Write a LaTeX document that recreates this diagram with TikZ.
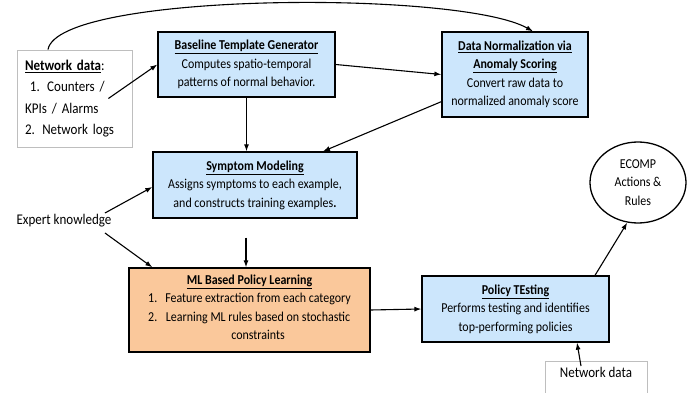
\documentclass[tikz,border=0pt]{standalone}
\usepackage{fontspec}
\setmainfont[FakeStretch=0.88]{Carlito}
\usetikzlibrary{arrows.meta, shapes.geometric}
\definecolor{boxblue}{RGB}{204,230,252}
\definecolor{boxorange}{RGB}{250,200,155}
\definecolor{framegray}{RGB}{190,190,190}

\begin{document}
\begin{tikzpicture}[x=1pt, y=-1pt,
    every node/.style={font=\fontsize{13.6}{18.5}\selectfont},
    stage/.style={draw, line width=1.3pt, fill=boxblue, align=center, inner sep=0pt},
    source/.style={draw=framegray, line width=0.8pt, font=\fontsize{14.8}{21.3}\selectfont},
    flow/.style={line width=1.1pt, -{Latex[length=7pt, width=5pt]}}]
    \useasboundingbox (0,0) rectangle (694,393) ;

    % inputs
    \node [source, align=left, text width=99pt, inner xsep=8pt, minimum height=97pt] (netdata) at (74.5,98.5)
        {\underline{\textbf{Network data}}:\\ \ 1. Counters /\\ KPIs / Alarms\\ 2. Network logs} ;
    \node [font=\fontsize{14.8}{16}\selectfont] (expert) at (64,221) {Expert knowledge} ;
    \node [source, anchor=north, minimum width=102pt, inner ysep=6pt, text depth=26pt] (bottomnet) at (596,361) {Network data} ;

    % stages
    \node [stage, minimum width=177pt, minimum height=65pt] (base) at (246.5,64.5)
        {\underline{\textbf{Baseline Template Generator}}\\ Computes spatio-temporal\\ patterns of normal behavior.} ;
    \node [stage, minimum width=146pt, minimum height=85pt] (norm) at (515,74.5)
        {\underline{\textbf{Data Normalization via}}\\ \underline{\textbf{Anomaly Scoring}}\\ Convert raw data to\\ normalized anomaly score} ;
    \node [stage, minimum width=204pt, minimum height=66pt] (symp) at (255,185)
        {\underline{\textbf{Symptom Modeling}}\\ Assigns symptoms to each example,\\ and constructs training examples\textbf{.}} ;
    \node [stage, fill=boxorange, minimum width=241pt, minimum height=84pt] (mlpl) at (249.5,310)
        {\underline{\textbf{ML Based Policy Learning}}\\
        \begin{tabular}[t]{@{}l@{\hspace{8pt}}c@{}}
            1. & Feature extraction from each category\\
            2. & Learning ML rules based on stochastic\\
               & constraints
        \end{tabular}} ;
    \node [stage, minimum width=187pt, minimum height=66pt] (test) at (515.5,309)
        {\underline{\textbf{Policy TEsting}}\\ Performs testing and identifies\\ top-performing policies} ;
    \node [draw, ellipse, line width=1.3pt, minimum width=96pt, minimum height=81pt, align=center, inner sep=0pt] (ecomp) at (638,182.5)
        {ECOMP\\ Actions \&\\ Rules} ;

    % connectors
    \draw [flow] ([xshift=-26.5pt]netdata.north) .. controls (58,-8) and (460,-10) .. ([xshift=18pt]norm.north) ;
    \draw [flow] ([xshift=-24pt]netdata.east) -- (base.west) ;
    \draw [flow] (base.east) -- (norm.west) ;
    \draw [flow] ([yshift=16pt]norm.south west) -- ([xshift=68pt]symp.north) ;
    \draw [flow] (base.south) -- (base.south |- symp.north) ;
    \draw [flow] ([xshift=-10pt, yshift=8pt]expert.east) -- ([yshift=-2pt]symp.west) ;
    \draw [flow] ([xshift=-10pt, yshift=-12pt]expert.east) -- ([xshift=24pt]mlpl.north west) ;
    \draw [flow] ([xshift=-9pt, yshift=-19pt]symp.south) -- ([xshift=-3.5pt]mlpl.north) ;
    \draw [flow] (mlpl.east) -- (test.west) ;
    \draw [flow] ([xshift=79.5pt]test.north) -- (ecomp.-105) ;
    \draw [flow] ([xshift=-15pt, yshift=-5pt]bottomnet.north) -- ([xshift=61.5pt]test.south) ;
\end{tikzpicture}
\end{document}
